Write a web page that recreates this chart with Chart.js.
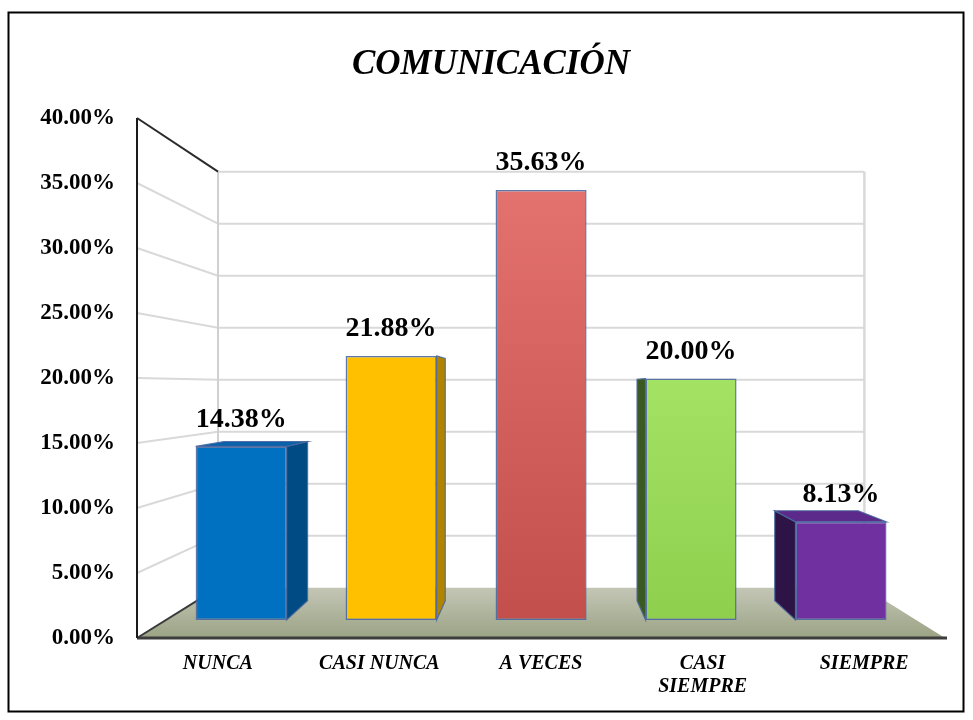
<!DOCTYPE html>
<html>
<head>
<meta charset="utf-8">
<title>COMUNICACIÓN</title>
<script src="https://cdn.jsdelivr.net/npm/chart.js@4/dist/chart.umd.min.js"></script>
<style>
  html, body { margin: 0; padding: 0; background: #ffffff; }
  #wrap { width: 973px; height: 720px; }
</style>
</head>
<body>
<div id="wrap"><canvas id="c" width="973" height="720"></canvas></div>
<script>
// ---- data ----
const categories = ['NUNCA', 'CASI NUNCA', 'A VECES', ['CASI', 'SIEMPRE'], 'SIEMPRE'];
const percentages = [14.38, 21.88, 35.63, 20.00, 8.13];
const yAxisMin = 0;
const yAxisMax = 40;
const yAxisStep = 5;

// ---- styling ----
const FRONT_COLORS = ['#0070c0', '#ffc000', '#d55c59', '#95d553', '#7030a0'];
const SIDE_COLORS  = ['#004b83', '#b08400', '#8f3330', '#3a5a22', '#2e1346'];
const TOP_COLORS   = ['#0a63aa', '#e6ad00', '#e47976', '#a6e46a', '#5b2a8a'];
const EDGE_COLOR = 'rgba(74, 104, 160, 0.9)';
const SERIF = "'Liberation Serif', 'Times New Roman', serif";

// plot box (front plane of the 3D room)
const AREA = { left: 137, right: 945, top: 118, bottom: 638 };
// perspective: vanishing point and depth scale of the back wall and of the bars' faces
const VP = { x: 542, y: 386.5 };
const DEPTH = { wall: 0.8, barFront: 0.928, barBack: 0.852 };

// value ranges of the hidden bar-plane axes, so that the bars sit at depth barFront
const slot = (AREA.right - AREA.left) / categories.length;
const invFrontX = px => (px - AREA.left) / slot - 0.5;
const invFrontY = py => (AREA.bottom - py) / (AREA.bottom - AREA.top) * (yAxisMax - yAxisMin) + yAxisMin;
const SF = DEPTH.barFront;
const barXMin = invFrontX(VP.x + (AREA.left - VP.x) / SF);
const barXMax = invFrontX(VP.x + (AREA.right - VP.x) / SF);
const barYMin = invFrontY(VP.y + (AREA.bottom - VP.y) / SF);
const barYMax = invFrontY(VP.y + (AREA.top - VP.y) / SF);

const barPoints = percentages.map((v, i) => ({ x: i, y: v }));

function toward(p, s) { // scale a point toward the vanishing point
  return [VP.x + s * (p[0] - VP.x), VP.y + s * (p[1] - VP.y)];
}

function poly(ctx, pts, fill, stroke, lw) {
  ctx.beginPath();
  ctx.moveTo(pts[0][0], pts[0][1]);
  for (let k = 1; k < pts.length; k++) ctx.lineTo(pts[k][0], pts[k][1]);
  ctx.closePath();
  if (fill) { ctx.fillStyle = fill; ctx.fill(); }
  if (stroke) { ctx.strokeStyle = stroke; ctx.lineWidth = lw || 1; ctx.stroke(); }
}

function line(ctx, a, b, color, lw) {
  ctx.beginPath();
  ctx.moveTo(a[0], a[1]);
  ctx.lineTo(b[0], b[1]);
  ctx.strokeStyle = color;
  ctx.lineWidth = lw;
  ctx.stroke();
}

// room (walls, floor) and the extruded sides of the bars
const roomPlugin = {
  id: 'room3d',
  beforeDatasetsDraw(chart) {
    const ctx = chart.ctx;
    const ca = chart.chartArea;
    const ys = chart.scales.y;
    const W = DEPTH.wall;
    ctx.save();
    ctx.lineCap = 'butt';

    const backL = toward([ca.left, 0], W)[0];
    const backR = toward([ca.right, 0], W)[0];
    const backTop = toward([0, ys.getPixelForValue(yAxisMax)], W)[1];
    const backBottom = toward([0, ys.getPixelForValue(yAxisMin)], W)[1];

    // back wall and left wall grid lines
    ys.ticks.forEach(t => {
      const yf = ys.getPixelForValue(t.value);
      const yb = toward([0, yf], W)[1];
      if (t.value > yAxisMin) {
        line(ctx, [backL, yb], [backR, yb], '#d9d9d9', 2);
        if (t.value < yAxisMax) line(ctx, [ca.left, yf], [backL, yb], '#d9d9d9', 2);
      }
    });
    line(ctx, [backL, backTop], [backL, backBottom], '#d0d0d0', 2);
    line(ctx, [backR, backTop], [backR, backBottom], '#d9d9d9', 2.5);

    // floor
    const g = ctx.createLinearGradient(0, backBottom, 0, ca.bottom);
    g.addColorStop(0, '#c3c6b6');
    g.addColorStop(1, '#9ba384');
    poly(ctx, [[ca.left, ca.bottom], [ca.right, ca.bottom], [backR, backBottom], [backL, backBottom]], g);
    line(ctx, [ca.left, ca.bottom], [ca.right + 2, ca.bottom], '#3d3d3d', 3);
    line(ctx, [ca.left, ca.bottom], [backL, backBottom], '#3a3a3a', 2);

    // left wall edges
    line(ctx, [ca.left, ca.top], [ca.left, ca.bottom], '#1a1a1a', 2);
    line(ctx, [ca.left, ca.top], [backL, backTop], '#2a2a2a', 2);

    // visible bar sides and tops (front faces are drawn by the library on top)
    const R = DEPTH.barBack / DEPTH.barFront;
    const meta = chart.getDatasetMeta(0);
    meta.data.forEach((el, i) => {
      const p = el.getProps(['x', 'y', 'base', 'width'], true);
      const xl = p.x - p.width / 2, xr = p.x + p.width / 2;
      const yt = p.y, yb = p.base;
      const sideFace = xe => [[xe, yt], toward([xe, yt], R), toward([xe, yb], R), [xe, yb]];
      if (xr < VP.x) poly(ctx, sideFace(xr), SIDE_COLORS[i], EDGE_COLOR, 1.2);
      if (xl > VP.x) poly(ctx, sideFace(xl), SIDE_COLORS[i], EDGE_COLOR, 1.2);
      if (yt > VP.y) {
        poly(ctx, [[xl, yt], [xr, yt], toward([xr, yt], R), toward([xl, yt], R)], TOP_COLORS[i], EDGE_COLOR, 1.2);
      }
    });
    ctx.restore();
  },
  afterDatasetsDraw(chart) {
    const ctx = chart.ctx;
    const meta = chart.getDatasetMeta(0);
    ctx.save();
    ctx.font = 'bold 28px ' + SERIF;
    ctx.fillStyle = '#000000';
    ctx.textAlign = 'center';
    ctx.textBaseline = 'middle';
    meta.data.forEach((el, i) => {
      const p = el.getProps(['x', 'y'], true);
      ctx.fillText(percentages[i].toFixed(2) + '%', p.x, p.y - 27);
    });
    ctx.restore();
  },
  afterDraw(chart) {
    const ctx = chart.ctx;
    ctx.save();
    ctx.strokeStyle = '#000000';
    ctx.lineWidth = 2;
    ctx.strokeRect(8.5, 12.5, 955, 699);
    ctx.restore();
  }
};

const chart = new Chart(document.getElementById('c'), {
  type: 'bar',
  data: {
    labels: categories,
    datasets: [{
      data: barPoints,
      xAxisID: 'xb',
      yAxisID: 'yb',
      backgroundColor: (c) => {
        const i = c.dataIndex;
        const sc = c.chart.scales && c.chart.scales.yb;
        if (!sc) return FRONT_COLORS[i];
        const top = sc.getPixelForValue(percentages[i]);
        const bottom = sc.getPixelForValue(0);
        if (i === 2) {
          const g = c.chart.ctx.createLinearGradient(0, top, 0, bottom);
          g.addColorStop(0, '#e3716e');
          g.addColorStop(1, '#c24f4c');
          return g;
        }
        if (i === 3) {
          const g = c.chart.ctx.createLinearGradient(0, top, 0, bottom);
          g.addColorStop(0, '#a3e263');
          g.addColorStop(1, '#8fcf4e');
          return g;
        }
        return FRONT_COLORS[i];
      },
      borderColor: EDGE_COLOR,
      borderWidth: 1.5,
      borderSkipped: false,
      barPercentage: 0.607,
      categoryPercentage: 1
    }]
  },
  options: {
    responsive: false,
    animation: false,
    devicePixelRatio: 1,
    layout: { padding: { left: 37, right: 973 - AREA.right, top: 0, bottom: 0 } },
    plugins: {
      legend: { display: false },
      tooltip: { enabled: false },
      title: {
        display: true,
        text: 'COMUNICACIÓN',
        color: '#000000',
        font: { family: SERIF, size: 35, style: 'italic', weight: 'bold', lineHeight: 1.2 },
        padding: { top: 44, bottom: 32 }
      }
    },
    scales: {
      x: {
        type: 'category',
        position: 'bottom',
        offset: true,
        grid: { display: false, drawTicks: false, tickLength: 0 },
        border: { display: false },
        ticks: {
          color: '#000000',
          font: { family: SERIF, size: 20, style: 'italic', weight: 'bold', lineHeight: 1.15 },
          padding: 14,
          maxRotation: 0,
          autoSkip: false
        },
        afterFit(scale) { scale.height = 720 - AREA.bottom; }
      },
      y: {
        type: 'linear',
        position: 'left',
        min: yAxisMin,
        max: yAxisMax,
        grid: { display: false, drawTicks: false, tickLength: 0 },
        border: { display: false },
        ticks: {
          stepSize: yAxisStep,
          color: '#000000',
          font: { family: SERIF, size: 23, weight: 'bold' },
          padding: 22,
          callback: v => v.toFixed(2) + '%'
        },
        afterFit(scale) { scale.width = AREA.left - 37; }
      },
      xb: {
        type: 'linear', display: false, offset: false,
        grid: { offset: false },
        min: barXMin, max: barXMax
      },
      yb: { type: 'linear', display: false, min: barYMin, max: barYMax }
    }
  },
  plugins: [roomPlugin]
});
</script>
</body>
</html>
